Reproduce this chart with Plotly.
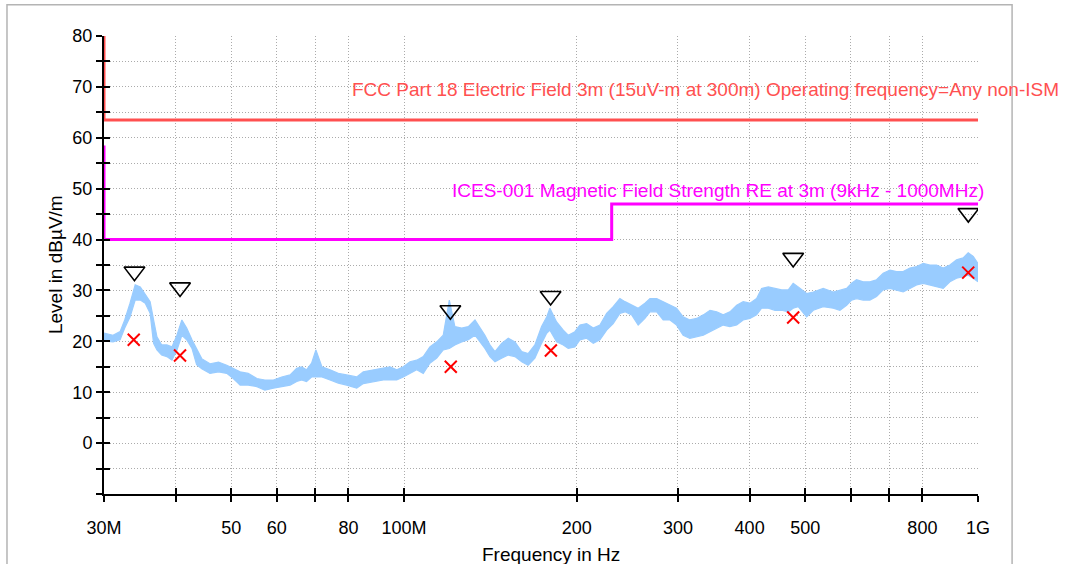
import math
import plotly.graph_objects as go

# ---------------- data ----------------
# measured spectrum envelope (frequency in MHz, upper / lower level in dBµV/m)
freq_mhz = [30.0, 31.1, 32.0, 32.6, 33.3, 34.0, 34.7, 35.4, 36.1, 36.6, 37.1, 37.8, 38.6, 39.4,
            40.2, 41.0, 41.8, 42.7, 43.5, 44.4, 45.9, 47.5, 49.1, 50.4, 51.8, 53.5, 55.4, 57.2,
            59.2, 61.2, 63.3, 65.0, 66.3, 67.6, 69.0, 70.2, 71.9, 74.3, 76.8, 79.4, 82.7, 84.9,
            88.4, 92.0, 94.5, 97.1, 99.7, 102.4, 105.2, 108.0, 110.9, 114.0, 117.0, 119.9, 122.6,
            126.0, 129.4, 132.9, 135.6, 138.3, 141.1, 144.0, 147.9, 151.9, 156.0, 160.3, 164.5,
            169.0, 173.6, 177.2, 179.5, 184.4, 189.4, 193.2, 198.4, 202.5, 208.0, 213.6, 219.4,
            225.4, 231.4, 237.7, 242.6, 249.2, 255.8, 262.8, 268.2, 275.5, 282.8, 290.6, 298.4,
            306.4, 314.7, 323.4, 332.2, 341.2, 350.5, 359.8, 369.6, 379.8, 389.8, 400.5, 411.4,
            419.7, 431.1, 442.8, 454.9, 467.1, 476.4, 486.1, 502.8, 516.4, 537.4, 559.5, 574.6,
            590.3, 602.2, 614.4, 630.9, 648.0, 665.6, 683.6, 702.3, 721.3, 740.6, 760.9, 781.7,
            802.9, 824.5, 846.9, 869.7, 893.4, 917.6, 942.3, 961.5, 981.0, 1000.0]
level_upper = [21.6, 21.2, 21.9, 24.2, 27.5, 31.1, 30.7, 29.1, 27.8, 24.2, 20.9, 19.3, 19.3, 18.9,
               21.2, 24.2, 22.6, 20.3, 18.6, 16.6, 15.6, 15.9, 15.3, 14.7, 14.0, 13.7, 12.7, 12.4,
               12.4, 13.0, 13.4, 14.7, 15.0, 14.4, 15.7, 18.3, 15.0, 14.4, 13.7, 13.4, 13.0, 14.0,
               14.4, 14.7, 15.0, 14.4, 15.0, 16.0, 16.3, 17.0, 18.9, 19.9, 21.2, 28.1, 22.9,
               22.6, 22.9, 24.2, 22.6, 21.2, 19.3, 18.0, 19.6, 20.6, 19.9, 18.0, 17.6,
               19.3, 22.9, 24.8, 26.5, 23.8, 22.2, 21.2, 21.9, 23.2, 23.5, 22.6, 23.2,
               25.5, 26.8, 28.4, 27.8, 27.1, 26.5, 27.5, 28.4, 28.4, 27.8, 27.1, 26.5,
               24.8, 24.2, 24.5, 25.2, 26.1, 25.8, 25.2, 25.8, 27.1, 27.8, 27.5, 28.4,
               30.4, 30.7, 30.4, 30.1, 30.1, 31.4, 30.7, 29.4, 29.7, 30.4, 29.7, 30.1,
               30.4, 31.4, 32.1, 31.7, 31.7, 32.1, 33.4, 34.0, 33.7, 33.7, 34.4, 34.7,
               35.3, 35.0, 35.0, 34.4, 35.0, 36.0, 36.4, 37.4, 36.7, 35.3]
level_lower = [20.1, 19.9, 20.3, 22.6, 24.8, 28.1, 28.1, 27.5, 25.5, 19.6, 18.3, 17.3, 17.0, 16.3,
               18.3, 21.2, 20.3, 18.6, 15.4, 14.6, 13.7, 14.0, 13.7, 12.7, 11.4, 11.4, 11.1, 10.4,
               10.8, 11.1, 11.4, 12.1, 12.4, 12.1, 13.0, 13.0, 13.0, 12.4, 11.8, 11.4, 10.8, 11.7,
               12.1, 12.4, 12.4, 12.4, 13.0, 13.7, 14.4, 13.7, 15.7, 16.7, 18.3, 18.6, 19.3,
               19.9, 20.3, 21.2, 19.9, 18.6, 17.0, 16.0, 16.7, 17.3, 17.0, 16.0, 15.3,
               16.7, 19.6, 21.6, 22.2, 19.9, 19.3, 18.6, 18.9, 20.3, 20.6, 19.6, 20.3,
               22.2, 23.5, 25.5, 25.8, 25.2, 23.2, 24.5, 25.8, 25.8, 24.2, 24.2, 23.2,
               21.2, 20.6, 20.9, 21.2, 21.9, 22.6, 23.2, 22.9, 23.2, 24.2, 24.5, 25.2,
               26.5, 26.5, 26.1, 26.1, 25.8, 26.5, 26.8, 24.8, 26.1, 26.8, 26.5, 26.1,
               27.1, 28.1, 28.4, 28.1, 28.1, 28.8, 30.1, 30.4, 30.1, 29.7, 30.4, 31.1,
               31.4, 31.1, 30.7, 30.4, 31.7, 32.4, 32.7, 33.0, 32.4, 31.7]

# peak markers (triangles) and final (quasi-peak) markers (crosses)
peak_freq_mhz = [33.9, 40.7, 120.4, 180.0, 476.4, 962.0]
peak_level = [33.7, 30.6, 26.1, 28.9, 36.4, 45.2]
final_freq_mhz = [33.8, 40.7, 120.6, 180.2, 476.4, 961.5]
final_level = [20.3, 17.2, 15.0, 18.2, 24.7, 33.5]

# limit lines
fcc_freq_mhz = [30, 30, 1000]
fcc_level = [80, 63.5, 63.5]
ices_freq_mhz = [30, 30, 230, 230, 1000]
ices_level = [58.5, 40, 40, 47, 47]

# axis ticks
x_tick_mhz = [30, 40, 50, 60, 70, 80, 100, 200, 300, 400, 500, 600, 700, 800, 1000]
x_tick_text = ["30M", "", "50", "60", "", "80", "100M", "200", "300", "400", "500", "", "", "800", "1G"]
y_tick_vals = list(range(-10, 81, 5))
y_tick_text = [str(v) if (v % 10 == 0 and v >= 0) else "" for v in y_tick_vals]

FCC_TEXT = "FCC Part 18 Electric Field 3m (15uV-m at 300m) Operating frequency=Any non-ISM"
ICES_TEXT = "ICES-001 Magnetic Field Strength RE at 3m (9kHz - 1000MHz)"

# ---------------- figure ----------------
hz = lambda arr: [v * 1e6 for v in arr]
FONT = "Liberation Sans, Arial, Helvetica, sans-serif"
TRACE_COL = "#99CCFF"
GRID_COL = "#ABABAB"

fig = go.Figure()

fig.add_trace(go.Scatter(x=hz(freq_mhz), y=level_upper, mode="lines",
                         line=dict(color=TRACE_COL, width=1.2), hoverinfo="skip"))
fig.add_trace(go.Scatter(x=hz(freq_mhz), y=level_lower, mode="lines",
                         line=dict(color=TRACE_COL, width=1.2), fill="tonexty",
                         fillcolor=TRACE_COL, hoverinfo="skip"))

fig.add_trace(go.Scatter(x=hz(fcc_freq_mhz), y=fcc_level, mode="lines",
                         line=dict(color="#FF5050", width=3)))
fig.add_trace(go.Scatter(x=hz(ices_freq_mhz), y=ices_level, mode="lines",
                         line=dict(color="#FF00FF", width=3)))

fig.add_trace(go.Scatter(x=hz(final_freq_mhz), y=final_level, mode="markers",
                         marker=dict(symbol="x-thin-open", size=12, color="#FF0000",
                                     line=dict(color="#FF0000", width=2))))
fig.add_trace(go.Scatter(x=hz(peak_freq_mhz), y=peak_level, mode="markers",
                         marker=dict(symbol="triangle-down-open", size=18, color="black",
                                     line=dict(color="black", width=1.6))))

# empty trace on overlay axes, which draw the inner half of the crossing ticks
fig.add_trace(go.Scatter(x=[], y=[], xaxis="x2", yaxis="y2", hoverinfo="skip"))

xr = [math.log10(30e6), math.log10(1e9)]
yr = [-10, 80]

common_axis = dict(showline=True, linecolor="black", linewidth=2, ticks="outside",
                   ticklen=6, tickwidth=2, tickcolor="black", zeroline=False,
                   tickfont=dict(family=FONT, size=18, color="black"),
                   showgrid=True, gridcolor=GRID_COL, gridwidth=1, griddash="1px,2px",
                   layer="below traces", tickmode="array")

fig.update_layout(
    width=1067, height=564, autosize=False,
    margin=dict(l=104, r=89, t=36, b=70),
    paper_bgcolor="white", plot_bgcolor="white",
    showlegend=False,
    font=dict(family=FONT, size=18, color="black"),
    xaxis=dict(type="log", range=xr, tickvals=hz(x_tick_mhz), ticktext=x_tick_text,
               ticklabelstandoff=10, **common_axis),
    yaxis=dict(range=yr, tickvals=y_tick_vals, ticktext=y_tick_text, **common_axis),
    xaxis2=dict(type="log", range=xr, overlaying="x", anchor="y2", side="bottom",
                tickmode="array", tickvals=hz(x_tick_mhz), ticks="inside", ticklen=6,
                tickwidth=2, tickcolor="black", showticklabels=False, showgrid=False,
                showline=False, zeroline=False),
    yaxis2=dict(range=yr, overlaying="y", anchor="x2", side="left",
                tickmode="array", tickvals=y_tick_vals, ticks="inside", ticklen=6,
                tickwidth=2, tickcolor="black", showticklabels=False, showgrid=False,
                showline=False, zeroline=False),
    annotations=[
        dict(text=FCC_TEXT, x=math.log10(80.5e6), y=69.4, xref="x", yref="y",
             xanchor="left", yanchor="middle", showarrow=False,
             font=dict(family=FONT, size=19, color="#FF5050")),
        dict(text=ICES_TEXT, x=math.log10(120.3e6), y=49.7, xref="x", yref="y",
             xanchor="left", yanchor="middle", showarrow=False,
             font=dict(family=FONT, size=19, color="#FF00FF")),
        dict(text="Level in dBµV/m", x=-0.056, y=0.5, xref="paper", yref="paper",
             xanchor="center", yanchor="middle", textangle=-90, showarrow=False,
             font=dict(family=FONT, size=19, color="black")),
        dict(text="Frequency in Hz", x=0.511, y=0, xref="paper", yref="paper",
             xanchor="center", yanchor="top", yshift=-48, showarrow=False,
             font=dict(family=FONT, size=19, color="black")),
    ],
    shapes=[
        dict(type="rect", xref="paper", yref="paper", x0=-0.111, x1=1.039,
             y0=-0.25, y1=1.068, line=dict(color="#B4B4B4", width=1.5),
             fillcolor="rgba(0,0,0,0)", layer="below"),
    ],
)

# remove the default 8px page margin so the figure fills the window exactly
fig.write_html("out.html",
               config={"displayModeBar": False, "staticPlot": True},
               post_script="document.body.style.margin='0';document.body.style.overflow='hidden';")
